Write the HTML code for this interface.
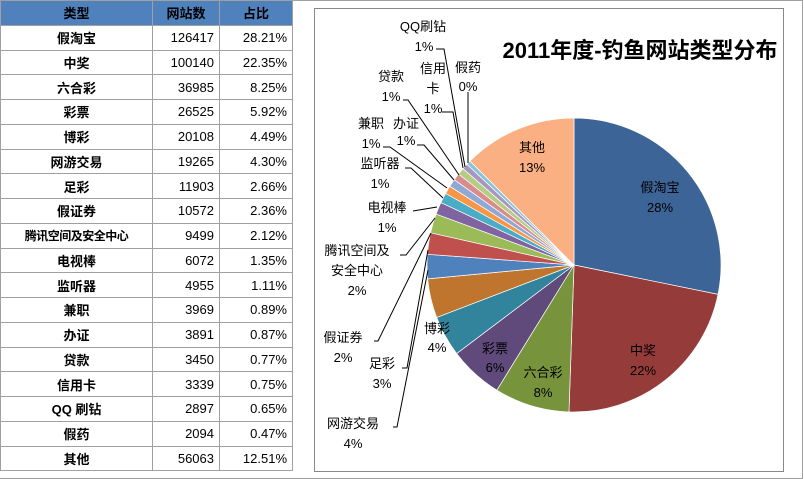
<!DOCTYPE html>
<html><head><meta charset="utf-8"><style>
body{margin:0;width:804px;height:479px;background:#fff;overflow:hidden;font-family:"Liberation Sans","Noto Sans CJK SC",sans-serif;position:relative}
table{position:absolute;left:0;top:0;border-collapse:collapse;font-size:13px}
td{border:1px solid #a0a0a0;height:23.75px;padding:0 5px;text-align:right;color:#000}
td:first-child{text-align:center;font-weight:bold;width:141px}
td:nth-child(2){width:56px}td:nth-child(3){width:62px}
tr.h td{background:#4f81bd;font-weight:bold;text-align:center}
#frame{position:absolute;left:0;top:0;width:802px;height:477px;border:1px solid #a0a0a0;border-left:none}
svg{position:absolute;left:0;top:0}
</style></head><body>
<div id="frame"></div>
<table>
<tr class="h"><td>类型</td><td>网站数</td><td>占比</td></tr>
<tr><td>假淘宝</td><td>126417</td><td>28.21%</td></tr>
<tr><td>中奖</td><td>100140</td><td>22.35%</td></tr>
<tr><td>六合彩</td><td>36985</td><td>8.25%</td></tr>
<tr><td>彩票</td><td>26525</td><td>5.92%</td></tr>
<tr><td>博彩</td><td>20108</td><td>4.49%</td></tr>
<tr><td>网游交易</td><td>19265</td><td>4.30%</td></tr>
<tr><td>足彩</td><td>11903</td><td>2.66%</td></tr>
<tr><td>假证券</td><td>10572</td><td>2.36%</td></tr>
<tr><td style="font-size:12px;letter-spacing:-0.5px">腾讯空间及安全中心</td><td>9499</td><td>2.12%</td></tr>
<tr><td>电视棒</td><td>6072</td><td>1.35%</td></tr>
<tr><td>监听器</td><td>4955</td><td>1.11%</td></tr>
<tr><td>兼职</td><td>3969</td><td>0.89%</td></tr>
<tr><td>办证</td><td>3891</td><td>0.87%</td></tr>
<tr><td>贷款</td><td>3450</td><td>0.77%</td></tr>
<tr><td>信用卡</td><td>3339</td><td>0.75%</td></tr>
<tr><td>QQ 刷钻</td><td>2897</td><td>0.65%</td></tr>
<tr><td>假药</td><td>2094</td><td>0.47%</td></tr>
<tr><td>其他</td><td>56063</td><td>12.51%</td></tr>
</table>
<svg width="804" height="479" xmlns="http://www.w3.org/2000/svg" font-family="Liberation Sans, Noto Sans CJK SC, sans-serif">
<rect x="314.5" y="8.5" width="469" height="463" fill="#fff" stroke="#888"/>
<g id="pie"></g>
<text x="640" y="58" font-size="22" font-weight="bold" text-anchor="middle">2011年度-钓鱼网站类型分布</text>
<g fill="none" stroke="#000" stroke-width="1">
<polyline points="436,49 444,49 465,167"/>
<polyline points="442,112 453,112 463,168"/>
<polyline points="468,92 468,163"/>
<polyline points="403,100 408,100 459,175"/>
<polyline points="417,145 424,145 454,180"/>
<polyline points="383,147 390,147 447,188"/>
<polyline points="405,168 411,168 443,198"/>
<polyline points="413,211 437,207"/>
<polyline points="400,255 406,255 435,218"/>
<polyline points="374,341 378,341 431,233"/>
<polyline points="402,368 407,368 428,250"/>
<polyline points="393,427 397,427 428,270"/>
</g>
<g font-size="13" text-anchor="middle" fill="#000">
<text x="423" y="31">QQ刷钻</text><text x="424" y="51">1%</text>
<text x="433" y="73">信用</text><text x="433" y="93">卡</text><text x="433" y="113">1%</text>
<text x="468" y="72">假药</text><text x="468" y="91">0%</text>
<text x="391" y="81">贷款</text><text x="391" y="101">1%</text>
<text x="371" y="128">兼职</text><text x="371" y="148">1%</text>
<text x="406" y="128">办证</text><text x="406" y="145">1%</text>
<text x="380" y="168">监听器</text><text x="380" y="188">1%</text>
<text x="387" y="212">电视棒</text><text x="387" y="232">1%</text>
<text x="357" y="255">腾讯空间及</text><text x="357" y="275">安全中心</text><text x="357" y="295">2%</text>
<text x="343" y="342">假证券</text><text x="343" y="362">2%</text>
<text x="382" y="368">足彩</text><text x="382" y="388">3%</text>
<text x="353" y="428">网游交易</text><text x="353" y="448">4%</text>
<text x="437" y="333">博彩</text><text x="437" y="352">4%</text>
<text x="495" y="353">彩票</text><text x="495" y="372">6%</text>
<text x="543" y="377">六合彩</text><text x="543" y="397">8%</text>
<text x="643" y="355">中奖</text><text x="643" y="375">22%</text>
<text x="660" y="192">假淘宝</text><text x="660" y="212">28%</text>
<text x="532" y="152">其他</text><text x="532" y="172">13%</text>
</g>
</svg>
<script>
var v=[28.21,22.35,8.25,5.92,4.49,4.30,2.66,2.36,2.12,1.35,1.11,0.89,0.87,0.77,0.75,0.65,0.47,12.51];
var c=["#3c6497","#953b39","#77933c","#5f4a7b","#31849b","#c0752e","#4f81bd","#c0504d","#9bbb59","#8064a2","#4bacc6","#f79646","#8ea9d6","#d98c8a","#b5cc85","#a797c0","#86c4d8","#fab082"];
var s=v.reduce(function(a,b){return a+b},0),cx=574,cy=265,r=147,a=0,h="";
for(var i=0;i<v.length;i++){var a2=a+v[i]/s*2*Math.PI;
var x1=cx+r*Math.sin(a),y1=cy-r*Math.cos(a),x2=cx+r*Math.sin(a2),y2=cy-r*Math.cos(a2);
h+='<path d="M'+cx+','+cy+'L'+x1+','+y1+'A'+r+','+r+' 0 '+(a2-a>Math.PI?1:0)+' 1 '+x2+','+y2+'Z" fill="'+c[i]+'" stroke="#fff" stroke-width="0.7"/>';a=a2;}
document.getElementById("pie").innerHTML=h;
</script>
</body></html>
